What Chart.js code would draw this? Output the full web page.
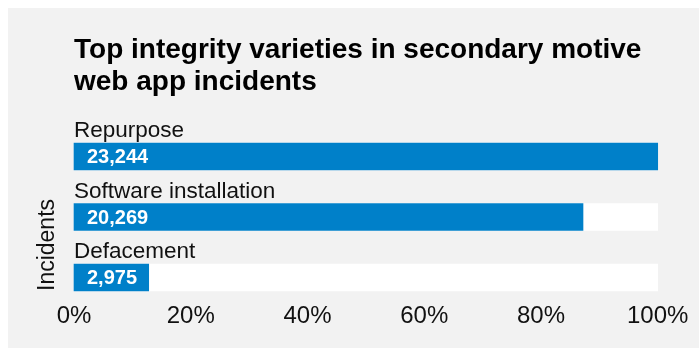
<!DOCTYPE html>
<html>
<head>
<meta charset="utf-8">
<script src="https://cdn.jsdelivr.net/npm/chart.js@4"></script>
<style>
    html, body { margin: 0; padding: 0; background: #fff; }
    .chart-box {
        position: absolute;
        left: 8px;
        top: 8px;
        width: 691px;
        height: 340px;
        background: #f2f2f2;
    }
</style>
</head>
<body>
<div class="chart-box"><canvas id="incidentsChart"></canvas></div>
<script>
const categories = ['Repurpose', 'Software installation', 'Defacement'];
const incidents = [23244, 20269, 2975];
const percentTicks = [0, 20, 40, 60, 80, 100];

const barColor = '#0080c9';
const trackColor = '#ffffff';
const textColor = '#111111';

Chart.defaults.font.family = "'Liberation Sans', Arial, sans-serif";

const maxIncidents = Math.max(...incidents);
// first category goes on top of the linear y axis
const positions = categories.map((_, i) => categories.length - 1 - i);

// label above each bar and count inside it
const barLabels = {
    id: 'barLabels',
    afterDatasetsDraw(chart) {
        const ctx = chart.ctx;
        const meta = chart.getDatasetMeta(0);
        ctx.save();
        meta.data.forEach((bar, i) => {
            const left = Math.min(bar.base, bar.x);
            const top = bar.y - bar.height / 2;

            ctx.font = "22.5px 'Liberation Sans', Arial, sans-serif";
            ctx.fillStyle = textColor;
            ctx.textAlign = 'left';
            ctx.textBaseline = 'alphabetic';
            ctx.fillText(categories[i], left, top - 6);

            ctx.font = "bold 20px 'Liberation Sans', Arial, sans-serif";
            ctx.fillStyle = '#ffffff';
            ctx.textBaseline = 'middle';
            ctx.fillText(incidents[i].toLocaleString('en-US'), left + 13, bar.y + 1);
        });
        ctx.restore();
    }
};

new Chart(document.getElementById('incidentsChart'), {
    type: 'bar',
    data: {
        datasets: [
            {
                label: 'Incidents',
                data: incidents.map((v, i) => ({ x: v / maxIncidents * 100, y: positions[i] })),
                backgroundColor: barColor,
                barThickness: 27,
                grouped: false,
                clip: false
            },
            {
                label: 'Total',
                data: incidents.map((v, i) => ({ x: 100, y: positions[i] })),
                backgroundColor: trackColor,
                barThickness: 27,
                grouped: false,
                clip: false
            }
        ]
    },
    options: {
        indexAxis: 'y',
        responsive: true,
        maintainAspectRatio: false,
        animation: false,
        layout: { padding: { left: 22, right: 8, top: 0, bottom: 7 } },
        scales: {
            x: {
                type: 'linear',
                min: 0,
                max: 100,
                afterBuildTicks: (axis) => { axis.ticks = percentTicks.map(v => ({ value: v })); },
                grid: { display: false, drawTicks: false },
                border: { display: false },
                ticks: {
                    color: textColor,
                    padding: 10.6,
                    font: { size: 24 },
                    callback: (v) => v + '%'
                }
            },
            y: {
                type: 'linear',
                offset: false,
                bounds: 'data',
                min: -0.223,
                max: 2.769,
                grid: { display: false, drawTicks: false },
                border: { display: false },
                ticks: { display: false },
                title: {
                    display: true,
                    text: 'Incidents',
                    align: 'start',
                    color: textColor,
                    font: { size: 23 },
                    padding: { top: 4, bottom: 12.4 }
                }
            }
        },
        plugins: {
            legend: { display: false },
            tooltip: { enabled: false },
            title: {
                display: true,
                fullSize: false,
                align: 'start',
                color: '#000',
                text: ['Top integrity varieties in secondary motive', 'web app incidents'],
                font: { size: 28, weight: 'bold', lineHeight: 1.142857 },
                padding: { top: 26, bottom: 12 }
            }
        }
    },
    plugins: [barLabels]
});
</script>
</body>
</html>
